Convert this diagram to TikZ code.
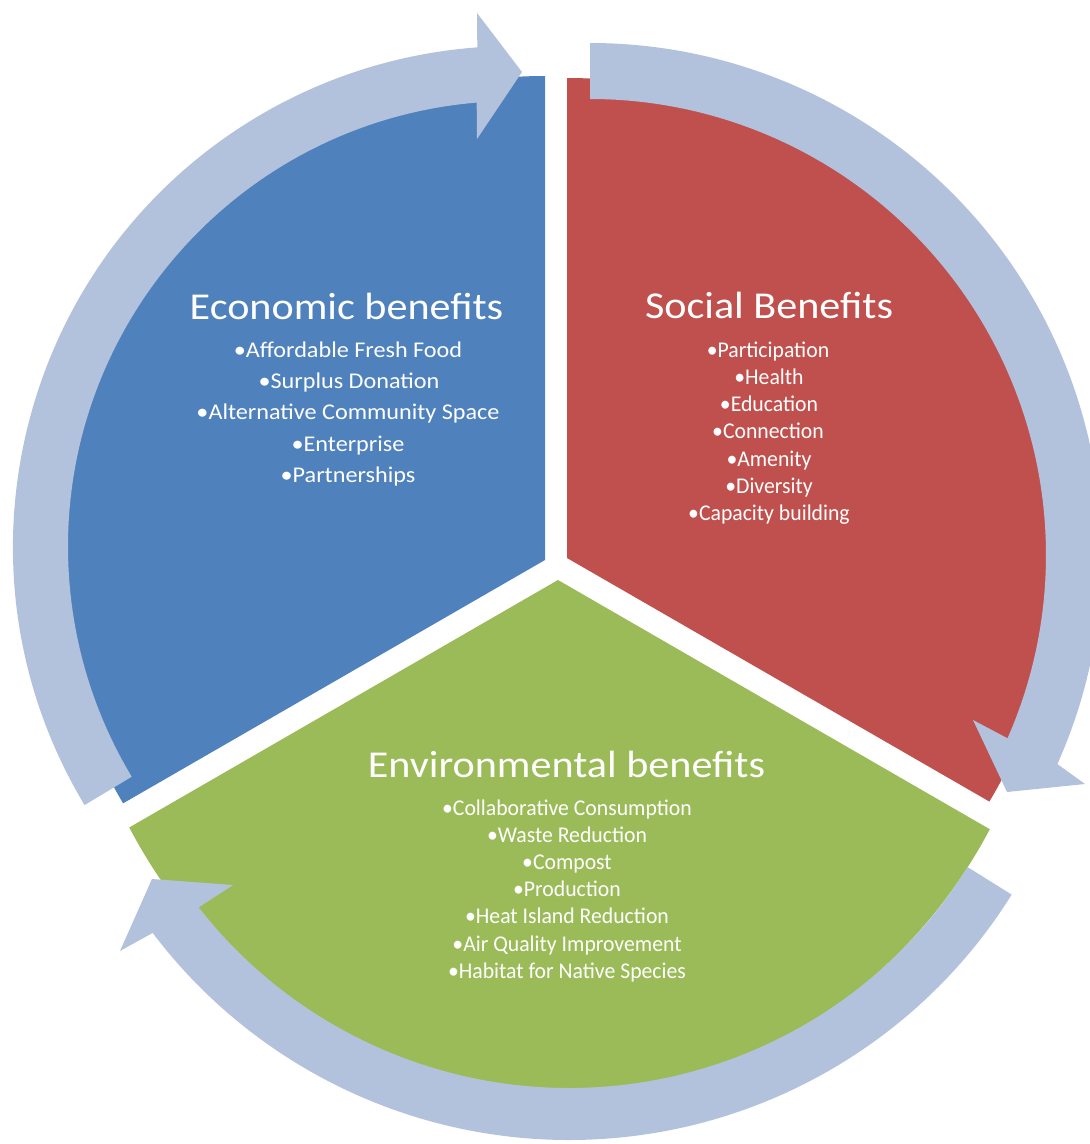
\documentclass[tikz,border=0pt]{standalone}
\usepackage{fontspec}
\setmainfont{Carlito}
\newfontfamily\titlefont{Carlito}[FakeStretch=1.11]
\newfontfamily\ecofont{Carlito}[FakeStretch=1.075]
\newfontfamily\itemfont{Carlito}[FakeStretch=0.965]
\usetikzlibrary{calc}
\definecolor{econ}{RGB}{79,129,189}
\definecolor{soc}{RGB}{192,80,77}
\definecolor{env}{RGB}{155,187,89}
\definecolor{ring}{RGB}{179,194,220}
\begin{document}
\begin{tikzpicture}[x=0.025cm,y=0.025cm,
  title/.style={text=white,font=\titlefont\fontsize{27}{32}\selectfont,inner sep=0pt,anchor=base},
  ecoitem/.style={text=white,font=\ecofont\fontsize{16}{19}\selectfont,inner sep=0pt,anchor=base},
  item/.style={text=white,font=\itemfont\fontsize{16}{19}\selectfont,inner sep=0pt,anchor=base},
  band/.style={fill=ring}]
\clip (0,0) rectangle (1090,-1144);
\fill[white] (0,0) rectangle (1090,-1144);

% ---- sectors ----
\begin{scope}
  \clip (545,-560) -- (545,100) -- (-100,100) -- (-100,-932) -- cycle;
  \fill[econ] (545,-560) ellipse[x radius=488,y radius=484];
\end{scope}
\begin{scope}
  \clip (567,-558) -- (567,100) -- (1200,100) -- (1200,-923) -- cycle;
  \fill[soc] (567,-558) ellipse[x radius=490,y radius=480];
\end{scope}
\begin{scope}
  \clip (558,-580) -- (-135,-980) -- (-135,-1300) -- (1251,-1300) -- (1251,-980) -- cycle;
  \fill[env] (560,-580) ellipse[x radius=491,y radius=515];
\end{scope}

% ---- circular arrows ----
\coordinate (A1) at (514,-547);
\coordinate (A2) at (590,-555);
\coordinate (A3) at (569,-618);

\fill[band] ($(A1)+(211:501)$) arc[start angle=211,end angle=94.2,radius=501]
  -- (477,-13) -- (522,-72) -- (477,-139)
  -- ($(A1)+(94.8:446)$) arc[start angle=94.8,end angle=211,radius=446] -- cycle;

\fill[band] ($(A2)+(90:512)$) arc[start angle=90,end angle=-24.1,radius=512]
  -- (1085,-784) -- (1007,-792) -- (973,-720)
  -- ($(A2)+(-23.7:456)$) arc[start angle=-23.7,end angle=90,radius=456] -- cycle;

\fill[band] ($(A3)+(-32:522)$) arc[start angle=-32,end angle=-142.9,radius=522]
  -- (120,-951) -- (152,-879) -- (233,-885)
  -- ($(A3)+(-142:470)$) arc[start angle=-142,end angle=-32,radius=470] -- cycle;

% ---- texts ----
\node[title] (ecoT) at (346.5,-319) {Economic benefits};
\node[ecoitem] (eco1) at (348,-357) {•Affordable Fresh Food};
\node[ecoitem] (eco2) at (349,-388) {•Surplus Donation};
\node[ecoitem] (eco3) at (348,-419) {•Alternative Community Space};
\node[ecoitem] (eco4) at (348,-451) {•Enterprise};
\node[ecoitem] (eco5) at (348,-482) {•Partnerships};

\node[title] (socT) at (769,-318) {Social Benefits};
\node[item] (soc1) at (768,-357) {•Participation};
\node[item] (soc2) at (769,-384.3) {•Health};
\node[item] (soc3) at (769,-411.6) {•Education};
\node[item] (soc4) at (768,-438.9) {•Connection};
\node[item] (soc5) at (769,-466.2) {•Amenity};
\node[item] (soc6) at (769,-493.5) {•Diversity};
\node[item] (soc7) at (769,-520.8) {•Capacity building};

\node[title] (envT) at (566.5,-777) {Environmental benefits};
\node[item] (env1) at (567,-815) {•Collaborative Consumption};
\node[item] (env2) at (567,-842.2) {•Waste Reduction};
\node[item] (env3) at (567,-869.4) {•Compost};
\node[item] (env4) at (567,-896.6) {•Production};
\node[item] (env5) at (567,-923.8) {•Heat Island Reduction};
\node[item] (env6) at (567,-951) {•Air Quality Improvement};
\node[item] (env7) at (567,-978.2) {•Habitat for Native Species};
\end{tikzpicture}
\end{document}
